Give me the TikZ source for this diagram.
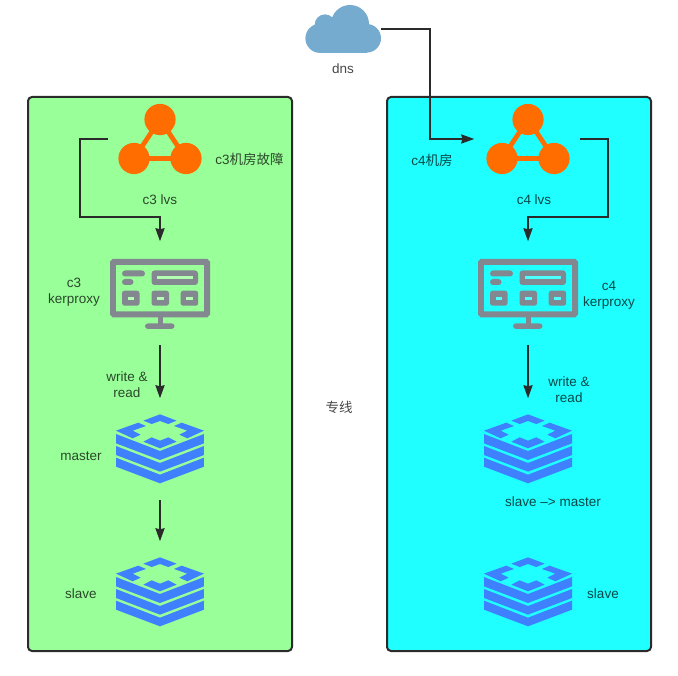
\documentclass[tikz,border=0pt]{standalone}
\usepackage{fontspec}
\setmainfont{Liberation Sans}
\newfontfamily\cjk{Noto Sans CJK SC}
\usetikzlibrary{arrows.meta}
\definecolor{linec}{HTML}{2B2B2B}
\definecolor{greenbg}{HTML}{99FF99}
\definecolor{cyanbg}{HTML}{1FFFFF}
\definecolor{lvsc}{HTML}{FF6D00}
\definecolor{monc}{HTML}{83878F}
\definecolor{redisc}{HTML}{3F80FF}
\definecolor{cloudc}{HTML}{75ABCE}
\tikzset{
  x=1pt,y=-1pt,
  frame/.style={draw=linec,line width=2pt,rounded corners=4pt},
  lbl/.style={text=black,text opacity=0.72,font=\fontsize{13.5}{15.8}\selectfont,align=center,inner sep=0pt},
  conn/.style={draw=linec,line width=2pt,shorten >=1.5pt,-{Stealth[length=13pt,width=9pt,inset=1pt]}},
  iconbox/.style={inner sep=0pt,minimum width=#1},
  iconbox/.default=100pt,
  lvs/.pic={
    \draw[lvsc,line width=4.8pt] (0,-19.5) -- (-26,19.5) -- (26,19.5) -- cycle;
    \fill[lvsc] (0,-19.5) circle[radius=15.6] (-26,19.5) circle[radius=15.6] (26,19.5) circle[radius=15.6];
  },
  monitorbase/.pic={
    \draw[monc,line width=5.8pt,rounded corners=1pt] (-47.1,-32.1) rectangle (47.1,20.4);
    \fill[monc] (-2.5,23) rectangle (2.5,31);
    \fill[monc,rounded corners=3pt] (-15,29.3) rectangle (14.5,35);
    \fill[monc,rounded corners=3pt] (-38,-23.5) rectangle (-15,-17.5);
    \fill[monc,rounded corners=3pt] (-38,-15) rectangle (-26.5,-9);
    \fill[monc,rounded corners=3pt] (-8.5,-23.5) rectangle (38,-9);
    \foreach \bx in {-38,-8.5,20.7}{
      \fill[monc,rounded corners=2.5pt] (\bx,-3.3) rectangle ++(17.5,15);
    }
  },
  monitorholes/.pic={
    \fill[#1] (-3.5,-18) rectangle (33,-14.7);
    \foreach \bx in {-38,-8.5,20.7}{
      \fill[#1] (\bx+5.5,2.9) rectangle ++(6.5,2.9);
    }
  },
  redis/.pic={
    \begin{scope}[x=0.3333pt,y=-0.3333pt,shift={(-180,-150)}]
    \fill[redisc] (180,43) -- (230,62) -- (205,72) -- (180,63) -- (155,72) -- (130,62) -- cycle;
    \fill[redisc] (48,92) -- (115,68) -- (138,78) -- (98,92) -- (122,104) -- (98,115) -- cycle;
    \fill[redisc] (312,92) -- (245,68) -- (222,78) -- (262,92) -- (238,104) -- (262,115) -- cycle;
    \fill[redisc] (155,112) -- (180,122) -- (205,112) -- (230,125) -- (180,145) -- (130,125) -- cycle;
    \fill[redisc] (48,102) -- (180,153) -- (312,102) -- (312,130) -- (180,180) -- (48,130) -- cycle;
    \fill[redisc] (48,138) -- (180,189) -- (312,138) -- (312,165) -- (180,215) -- (48,165) -- cycle;
    \fill[redisc] (48,173) -- (180,224) -- (312,173) -- (312,200) -- (180,250) -- (48,200) -- cycle;
    \end{scope}
  },
  cloud/.pic={
    \fill[cloudc] (23.7,9.3) circle[radius=14.3] (7,-5) circle[radius=19]
      (-18,-4.3) circle[radius=10.3] (-23,9.3) circle[radius=14.6];
    \fill[cloudc] (-23,1) rectangle (23.7,23.6);
  }
}
\begin{document}
\begin{tikzpicture}
\useasboundingbox (0,0) rectangle (678,676);
% frames
\node[frame,fill=greenbg,minimum width=264pt,minimum height=554pt,inner sep=0pt] (leftroom) at (160,374) {};
\node[frame,fill=cyanbg,minimum width=264pt,minimum height=554pt,inner sep=0pt] (rightroom) at (519,374) {};
% icon anchors
\node[iconbox=104pt,minimum height=80pt] (c3lvs) at (160,139) {};
\node[iconbox=104pt,minimum height=80pt] (c4lvs) at (528,139) {};
\node[iconbox=100pt,minimum height=102pt] (c3kp) at (160,294) {};
\node[iconbox=100pt,minimum height=102pt] (c4kp) at (528,294) {};
\node[iconbox=90pt,minimum height=100pt] (c3master) at (160,450) {};
\node[iconbox=90pt,minimum height=100pt] (c4master) at (528,450) {};
\node[iconbox=90pt,minimum height=100pt] (c3slave) at (160,593) {};
\node[iconbox=90pt,minimum height=100pt] (c4slave) at (528,593) {};
\node[iconbox=76pt,minimum height=48pt] (dns) at (343,29) {};
% icons
\pic at (c3lvs) {lvs};
\pic at (c4lvs) {lvs};
\pic at (c3kp) {monitorbase};
\pic at (c3kp) {monitorholes={white!25!greenbg}};
\pic at (c4kp) {monitorbase};
\pic at (c4kp) {monitorholes={white!20!cyanbg}};
\pic at (c3master) {redis};
\pic at (c4master) {redis};
\pic at (c3slave) {redis};
\pic at (c4slave) {redis};
\pic at (dns) {cloud};
% connectors
\draw[conn] (c3lvs.west) -| (80,217) -| (c3kp.north);
\draw[conn] (c4lvs.east) -| (608,217) -| (c4kp.north);
\draw[conn] (dns.east) -| (430,139) -- (c4lvs.west);
\draw[conn] (c3kp.south) -- (c3master.north);
\draw[conn] (c4kp.south) -- (c4master.north);
\draw[conn] (c3master.south) -- (c3slave.north);
% labels
\node[lbl] (ldns) at (343,69) {dns};
\node[lbl] (lc3f) at (249.5,159) {c3{\cjk 机房故障}};
\node[lbl] (lc3lvs) at (160,200) {c3 lvs};
\node[lbl] (lc3kp) at (74,292) {c3\\kerproxy};
\node[lbl] (lc3wr) at (127,385) {write \&\\read};
\node[lbl] (lzx) at (339,407) {\cjk 专线};
\node[lbl] (lmaster) at (81,456) {master};
\node[lbl] (lslave) at (81,594) {slave};
\node[lbl] (lc4) at (432,160) {c4{\cjk 机房}};
\node[lbl] (lc4lvs) at (534,200) {c4 lvs};
\node[lbl] (lc4kp) at (609,295) {c4\\kerproxy};
\node[lbl] (lc4wr) at (569,390) {write \&\\read};
\node[lbl] (lsm) at (553,502) {slave –> master};
\node[lbl] (lslave2) at (603,594) {slave};
\end{tikzpicture}
\end{document}
